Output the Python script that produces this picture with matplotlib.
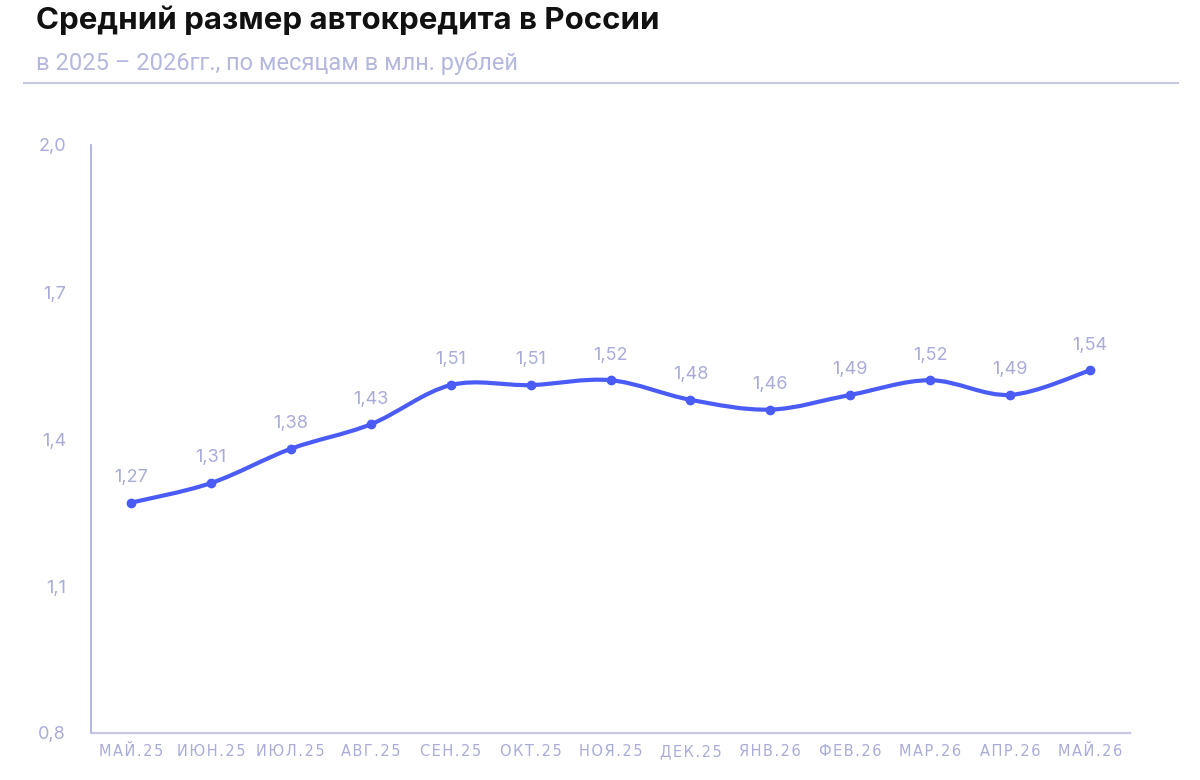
import matplotlib
matplotlib.use("Agg")
import matplotlib.pyplot as plt
from matplotlib.path import Path
from matplotlib.patches import PathPatch
from matplotlib.lines import Line2D

months = ["МАЙ.25", "ИЮН.25", "ИЮЛ.25", "АВГ.25", "СЕН.25", "ОКТ.25", "НОЯ.25",
          "ДЕК.25", "ЯНВ.26", "ФЕВ.26", "МАР.26", "АПР.26", "МАЙ.26"]
values = [1.27, 1.31, 1.38, 1.43, 1.51, 1.51, 1.52, 1.48, 1.46, 1.49, 1.52, 1.49, 1.54]
yticks = [0.8, 1.1, 1.4, 1.7, 2.0]

LINE = "#4a5cf5"
LABEL = "#a9acd8"
AXIS = "#a3a7e2"
BOTTOM = "#c6c8e4"

fig = plt.figure(figsize=(12, 7.8), dpi=100)
ax = fig.add_axes([91/1200, 1-733/780, 1039/1200, 588/780])

x = list(range(len(values)))
# smooth curve through the points (Catmull-Rom as cubic Bezier segments)
verts = [(x[0], values[0])]
codes = [Path.MOVETO]
n = len(values)
for i in range(n - 1):
    p0 = (x[max(i-1, 0)], values[max(i-1, 0)])
    p1 = (x[i], values[i])
    p2 = (x[i+1], values[i+1])
    p3 = (x[min(i+2, n-1)], values[min(i+2, n-1)])
    c1 = (p1[0] + (p2[0]-p0[0])/6, p1[1] + (p2[1]-p0[1])/6)
    c2 = (p2[0] - (p3[0]-p1[0])/6, p2[1] - (p3[1]-p1[1])/6)
    verts += [c1, c2, p2]
    codes += [Path.CURVE4]*3
ax.add_patch(PathPatch(Path(verts, codes), facecolor="none", edgecolor=LINE,
                       lw=3.0, capstyle="round", joinstyle="round", zorder=3))
ax.plot(x, values, linestyle="none", marker="o", ms=6, color=LINE, zorder=4)

for xi, v in zip(x, values):
    ax.annotate(f"{v:.2f}".replace(".", ","), (xi, v), xytext=(0, 12),
                textcoords="offset points", ha="center", va="bottom",
                color=LABEL, fontsize=13, family="Inter")

ax.set_xlim(-0.5, 12.5)
ax.set_ylim(0.8, 2.0)
ax.set_yticks(yticks)
ax.set_yticklabels([f"{t:.1f}".replace(".", ",") for t in yticks],
                   color=LABEL, fontsize=13, family="Inter")
ax.set_xticks(x)
spaced = ["\u200a".join(m) for m in months]
ax.set_xticklabels(spaced, color=LABEL, fontsize=10.5, family=["DejaVu Sans"])
ax.tick_params(axis="both", length=0)
ax.tick_params(axis="y", pad=18)
ax.tick_params(axis="x", pad=8)
for s in ["top", "right"]:
    ax.spines[s].set_visible(False)
ax.spines["left"].set_color(AXIS)
ax.spines["left"].set_linewidth(1.2)
ax.spines["bottom"].set_color(BOTTOM)
ax.spines["bottom"].set_linewidth(1.6)

fig.text(36/1200, 1-29/780, "Средний размер автокредита в России", fontsize=22.5,
         fontweight="bold", color="#111111", family="Inter", va="baseline")
fig.text(36/1200, 1-70/780, "в 2025 – 2026гг., по месяцам в млн. рублей", fontsize=17,
         color="#b5b8de", family="Roboto", va="baseline")
fig.add_artist(Line2D([24/1200, 1178/1200], [1-83/780, 1-83/780], color="#c6c9e2", lw=1.5))

fig.savefig("out.png", dpi=100, facecolor="white")
